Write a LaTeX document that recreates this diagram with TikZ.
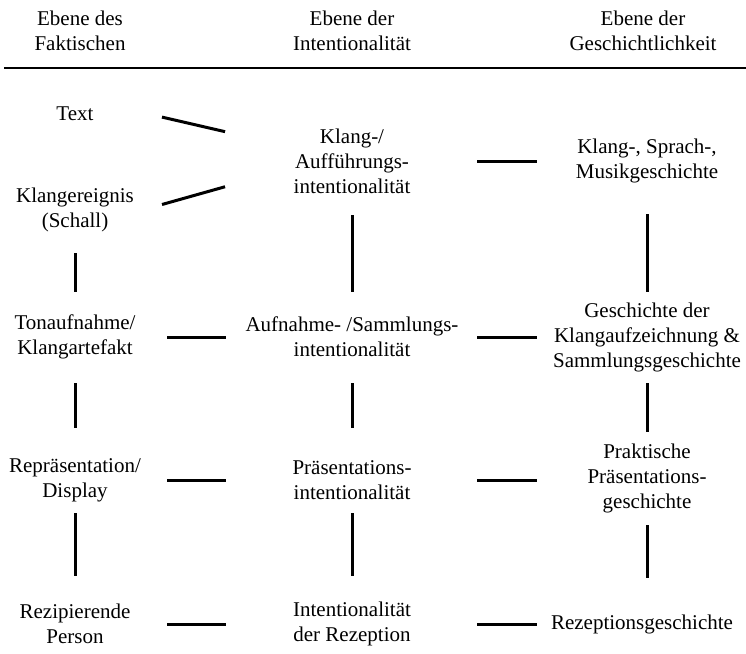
\documentclass[tikz,border=0pt]{standalone}
\usepackage{fontspec}
\setmainfont{Liberation Serif}

\begin{document}
\begin{tikzpicture}[x=1pt, y=-1pt,
    every node/.style={font=\fontsize{21}{25}\selectfont, align=center, inner sep=0pt},
    link/.style={line width=3pt}]
  \useasboundingbox (0,0) rectangle (746,653);

  % Kopfzeile
  \node (kopfA) at (80,31) {Ebene des\\Faktischen};
  \node (kopfB) at (352,31) {Ebene der\\Intentionalität};
  \node (kopfC) at (643,31) {Ebene der\\Geschichtlichkeit};
  \draw[line width=2.6pt] (4,68) -- (746,68);

  % Spalte 1: Faktisches
  \node (text) at (75,114) {Text};
  \node (schall) at (75,210) {Klangereignis\\(Schall)};
  \node (tonaufnahme) at (75,337) {Tonaufnahme/\\Klangartefakt};
  \node (display) at (75,480) {Repräsentation/\\Display};
  \node (person) at (75,624) {Rezipierende\\Person};

  % Spalte 2: Intentionalitaet
  \node (klangint) at (352,161) {Klang-/\\Aufführungs-\\intentionalität};
  \node (sammlint) at (352,337) {Aufnahme- /Sammlungs-\\intentionalität};
  \node (praesint) at (352,480) {Präsentations-\\intentionalität};
  \node (rezint) at (352,624) {Intentionalität\\der Rezeption};

  % Spalte 3: Geschichtlichkeit
  \node (klanggesch) at (647,161) {Klang-, Sprach-,\\Musikgeschichte};
  \node (sammlgesch) at (647,337) {Geschichte der\\Klangaufzeichnung \&\\Sammlungsgeschichte};
  \node (praesgesch) at (647,478) {Praktische\\Präsentations-\\geschichte};
  \node (rezgesch) at (642,624) {Rezeptionsgeschichte};

  % Schraege Verbindungen
  \draw[link, shorten <=89.3pt, shorten >=130.3pt] ([yshift=17pt]text.center) -- (klangint.center);
  \draw[link, shorten <=90.4pt, shorten >=131.9pt] ([yshift=-19pt]schall.center) -- ([yshift=10pt]klangint.center);

  % Waagerechte Verbindungen
  \draw[link, shorten <=125pt, shorten >=110pt] (klangint.center) -- (klangint.center -| klanggesch.center);
  \draw[link, shorten <=92pt, shorten >=126pt] (tonaufnahme.center) -- (tonaufnahme.center -| sammlint.center);
  \draw[link, shorten <=125pt, shorten >=110pt] (sammlint.center) -- (sammlint.center -| sammlgesch.center);
  \draw[link, shorten <=92pt, shorten >=126pt] (display.center) -- (display.center -| praesint.center);
  \draw[link, shorten <=125pt, shorten >=110pt] (praesint.center) -- (praesint.center -| praesgesch.center);
  \draw[link, shorten <=92pt, shorten >=126pt] (person.center) -- (person.center -| rezint.center);
  \draw[link, shorten <=125pt, shorten >=105pt] (rezint.center) -- (rezint.center -| rezgesch.center);

  % Senkrechte Verbindungen
  \draw[link, shorten <=43pt, shorten >=45pt] (schall.center) -- (tonaufnahme.center);
  \draw[link, shorten <=46pt, shorten >=52pt] (tonaufnahme.center) -- (display.center);
  \draw[link, shorten <=33pt, shorten >=48pt] (display.center) -- (person.center);
  \draw[link, shorten <=54pt, shorten >=45pt] (klangint.center) -- (sammlint.center);
  \draw[link, shorten <=46pt, shorten >=52pt] (sammlint.center) -- (praesint.center);
  \draw[link, shorten <=33pt, shorten >=48pt] (praesint.center) -- (rezint.center);
  \draw[link, shorten <=53pt, shorten >=45pt] (klanggesch.center) -- (sammlgesch.center);
  \draw[link, shorten <=46pt, shorten >=46pt] (sammlgesch.center) -- (praesgesch.center);
  \draw[link, shorten <=47pt, shorten >=46pt] (praesgesch.center) -- (praesgesch.center |- rezgesch.center);
\end{tikzpicture}
\end{document}
